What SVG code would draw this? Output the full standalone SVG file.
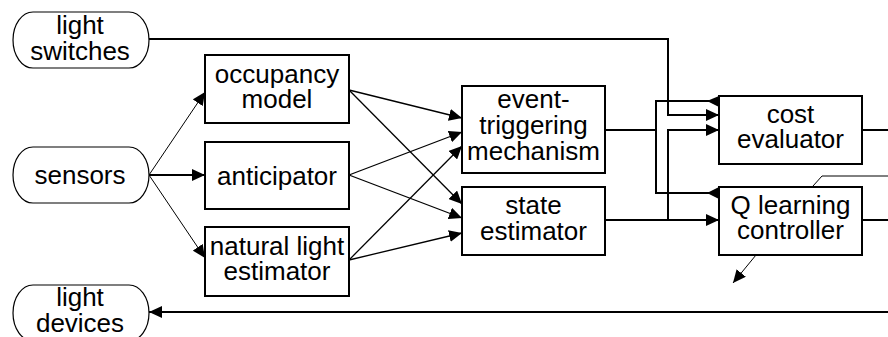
<svg xmlns="http://www.w3.org/2000/svg" width="888" height="337" viewBox="0 0 888 337">
  <style>
    .box { fill: #fff; stroke: #000; stroke-width: 2; }
    .term { fill: #fff; stroke: #000; stroke-width: 1.2; }
    .lbl { font-family: "Liberation Sans", Arial, Helvetica, sans-serif; font-size: 26px; fill: #000; text-anchor: middle; }
    .wire { fill: none; stroke: #000; stroke-width: 2; }
    .mid { fill: none; stroke: #000; stroke-width: 1.3; }
    .thin { fill: none; stroke: #000; stroke-width: 1; }
  </style>
  <defs>
    <marker id="ah" viewBox="0 0 13 12" refX="13" refY="6" markerWidth="13" markerHeight="12" markerUnits="userSpaceOnUse" orient="auto">
      <path d="M0,0 L13,6 L0,12 Z" fill="#000"/>
    </marker>
  </defs>

  <!-- connectors -->
  <g id="connectors">
    <!-- sensors fan-out -->
    <line class="thin" x1="149" y1="175" x2="205" y2="92" marker-end="url(#ah)"/>
    <line class="wire" x1="149" y1="175" x2="205" y2="175" marker-end="url(#ah)"/>
    <line class="thin" x1="149" y1="175" x2="205" y2="258" marker-end="url(#ah)"/>

    <!-- estimators to event-triggering / state estimator -->
    <line class="mid" x1="349" y1="90" x2="462" y2="118" marker-end="url(#ah)"/>
    <line class="mid" x1="349" y1="90" x2="462" y2="204" marker-end="url(#ah)"/>
    <line class="mid" x1="349" y1="175" x2="462" y2="132" marker-end="url(#ah)"/>
    <line class="mid" x1="349" y1="175" x2="462" y2="218" marker-end="url(#ah)"/>
    <line class="mid" x1="349" y1="260" x2="462" y2="146" marker-end="url(#ah)"/>
    <line class="mid" x1="349" y1="260" x2="462" y2="233" marker-end="url(#ah)"/>

    <!-- light switches to cost evaluator -->
    <path class="wire" d="M149,39 H668 V115 H719" marker-end="url(#ah)"/>

    <!-- event-triggering output bus -->
    <path class="wire" d="M605,130 H656"/>
    <path class="wire" d="M709,101 H656 V193 H709"/>
    <polygon points="707,101 719,96 719,107" fill="#000"/>
    <polygon points="707,193 719,187 719,199" fill="#000"/>

    <!-- state estimator output -->
    <path class="wire" d="M605,220 H719" marker-end="url(#ah)"/>
    <path class="wire" d="M668,220 V130 H719" marker-end="url(#ah)"/>

    <!-- outputs to the right -->
    <path class="wire" d="M862,130 H888"/>
    <path class="wire" d="M862,220 H888"/>
    <path class="thin" d="M813,186 L822,176 H888"/>
    <line class="thin" x1="756" y1="255" x2="733" y2="283" marker-end="url(#ah)"/>

    <!-- return to light devices -->
    <path class="wire" d="M888,312 H149" marker-end="url(#ah)"/>
  </g>

  <!-- terminals -->
  <g id="light-switches">
    <rect class="term" x="13" y="12" width="136" height="56" rx="20" ry="28"/>
    <text class="lbl" x="80" y="34">light</text>
    <text class="lbl" x="80" y="60">switches</text>
  </g>
  <g id="sensors">
    <rect class="term" x="13" y="147" width="136" height="56" rx="20" ry="28"/>
    <text class="lbl" x="80" y="184">sensors</text>
  </g>
  <g id="light-devices">
    <rect class="term" x="13" y="285" width="136" height="56" rx="20" ry="28"/>
    <text class="lbl" x="80" y="306">light</text>
    <text class="lbl" x="80" y="332">devices</text>
  </g>

  <!-- processing blocks -->
  <g id="occupancy-model">
    <rect class="box" x="205" y="55" width="144" height="68"/>
    <text class="lbl" x="277" y="83">occupancy</text>
    <text class="lbl" x="277" y="108">model</text>
  </g>
  <g id="anticipator">
    <rect class="box" x="205" y="142" width="144" height="67"/>
    <text class="lbl" x="277" y="185">anticipator</text>
  </g>
  <g id="natural-light-estimator">
    <rect class="box" x="205" y="227" width="144" height="69"/>
    <text class="lbl" x="277" y="255">natural light</text>
    <text class="lbl" x="277" y="280">estimator</text>
  </g>
  <g id="event-triggering-mechanism">
    <rect class="box" x="462" y="86" width="143" height="87"/>
    <text class="lbl" x="533.5" y="108">event-</text>
    <text class="lbl" x="533.5" y="134">triggering</text>
    <text class="lbl" x="533.5" y="160">mechanism</text>
  </g>
  <g id="state-estimator">
    <rect class="box" x="462" y="187" width="143" height="68"/>
    <text class="lbl" x="533.5" y="214">state</text>
    <text class="lbl" x="533.5" y="240">estimator</text>
  </g>
  <g id="cost-evaluator">
    <rect class="box" x="719" y="96" width="143" height="68"/>
    <text class="lbl" x="790.5" y="123">cost</text>
    <text class="lbl" x="790.5" y="148">evaluator</text>
  </g>
  <g id="q-learning-controller">
    <rect class="box" x="719" y="187" width="143" height="68"/>
    <text class="lbl" x="790.5" y="214">Q learning</text>
    <text class="lbl" x="790.5" y="239">controller</text>
  </g>
</svg>
